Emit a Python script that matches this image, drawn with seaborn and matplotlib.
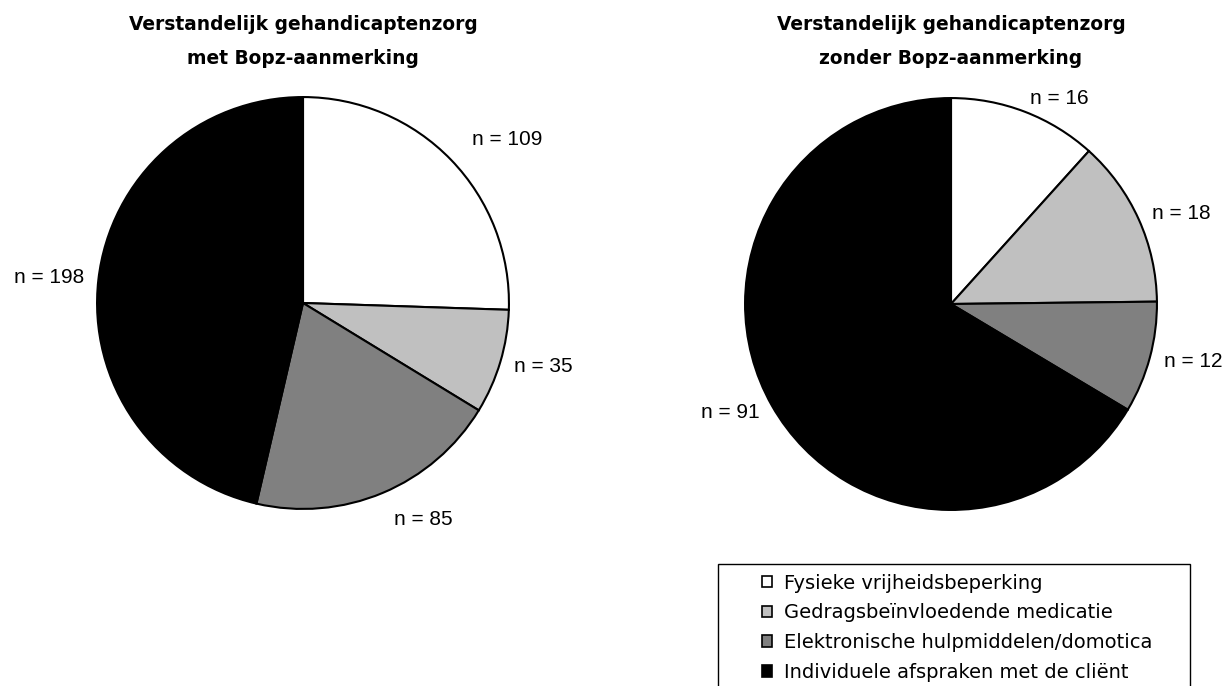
import matplotlib
matplotlib.use("Agg")
import matplotlib.pyplot as plt
from matplotlib.patches import Patch, Rectangle
import numpy as np
import seaborn as sns

# categorieen en aantallen
categorieen = [
    "Fysieke vrijheidsbeperking",
    "Gedragsbeïnvloedende medicatie",
    "Elektronische hulpmiddelen/domotica",
    "Individuele afspraken met de cliënt",
]
met_bopz = [109, 35, 85, 198]
zonder_bopz = [16, 18, 12, 91]
titels = [
    "Verstandelijk gehandicaptenzorg\nmet Bopz-aanmerking",
    "Verstandelijk gehandicaptenzorg\nzonder Bopz-aanmerking",
]
kleuren = ["#ffffff", "#c0c0c0", "#808080", "#000000"]

# afstand van de labels tot het middelpunt (in stralen), per taart
label_afstand = [[1.14, 1.07, 1.14, 1.07], [1.07, 1.07, 1.07, 1.07]]

sns.set_theme(style="white")
plt.rcParams["font.family"] = ["Liberation Sans", "DejaVu Sans"]
plt.rcParams["text.color"] = "black"

W, H = 1231, 686
fig = plt.figure(figsize=(W / 100, H / 100), dpi=100)
fig.patch.set_facecolor("white")

R = 208
centra = [(303, 303), (951, 304)]

for (cx, cy), waarden, titel, afst in zip(centra, [met_bopz, zonder_bopz], titels, label_afstand):
    ax = fig.add_axes([(cx - R) / W, (H - cy - R) / H, 2 * R / W, 2 * R / H])
    labels = [f"n = {v}" for v in waarden]
    wedges, teksten = ax.pie(
        waarden, labels=labels, colors=kleuren, startangle=90,
        counterclock=False, labeldistance=1.07,
        wedgeprops=dict(edgecolor="black", linewidth=1.5),
        textprops=dict(fontsize=15, color="black"),
    )
    for w, t, d in zip(wedges, teksten, afst):
        hoek = np.deg2rad((w.theta1 + w.theta2) / 2)
        t.set_position((d * np.cos(hoek), d * np.sin(hoek)))
    ax.set_xlim(-1.01, 1.01)
    ax.set_ylim(-1.01, 1.01)
    ax.axis("off")
    fig.text(cx / W, 1 - 41 / H, titel, ha="center", va="center",
             fontsize=13.4, fontweight="bold", linespacing=2.0,
             family="DejaVu Sans", color="black")

# legenda in een kader dat onderaan doorloopt
fig.patches.append(Rectangle((718 / W, -0.05), (1190 - 718) / W, 0.05 + (H - 564) / H,
                             transform=fig.transFigure, facecolor="none",
                             edgecolor="black", linewidth=1.0))
handles = [Patch(facecolor=k, edgecolor="black", linewidth=1.2) for k in kleuren]
leg = fig.legend(handles, categorieen, loc="upper left",
                 bbox_to_anchor=(748 / W, 1 - 560 / H), frameon=False,
                 prop=dict(family="DejaVu Sans", size=14),
                 handlelength=0.53, handleheight=0.53,
                 handletextpad=0.62, labelspacing=0.55, borderpad=0.2)
for t in leg.get_texts():
    t.set_color("black")

fig.savefig("out.png", dpi=100)
